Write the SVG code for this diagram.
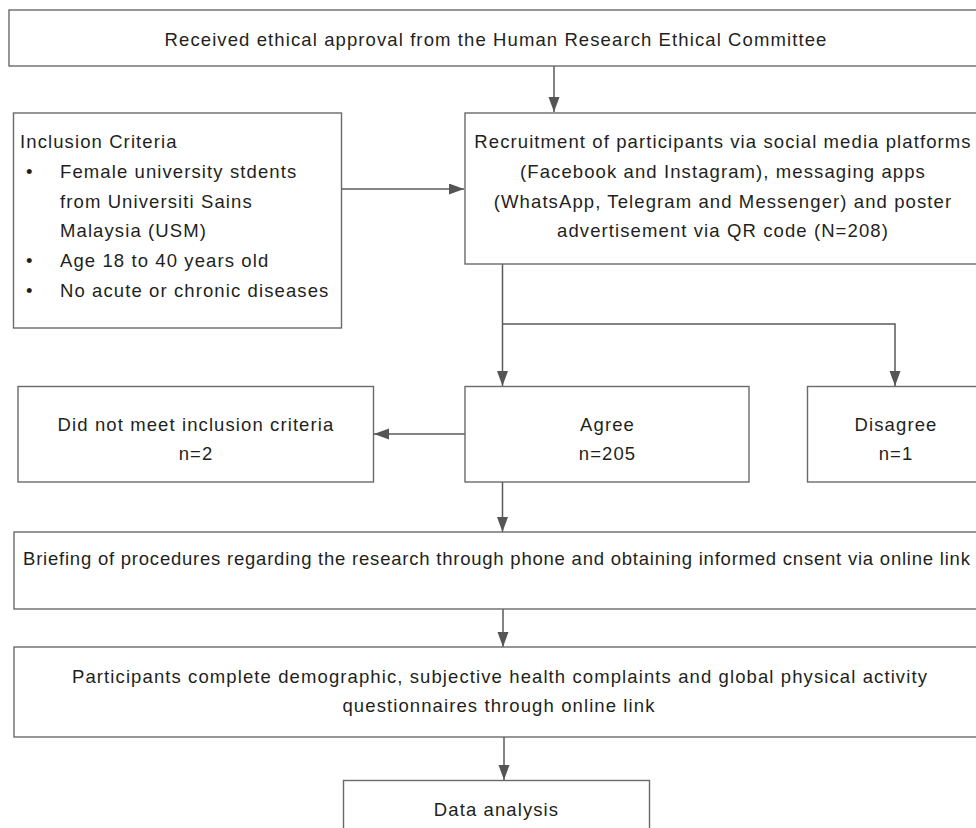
<svg xmlns="http://www.w3.org/2000/svg" width="976" height="828" viewBox="0 0 976 828">
<defs>
<marker id="ah" markerUnits="userSpaceOnUse" markerWidth="16" markerHeight="12" refX="15" refY="5.5" orient="auto">
<path d="M0,0 L15,5.5 L0,11 Z" fill="#555555"/>
</marker>
<style>
.box{fill:#ffffff;stroke:#6a6a6a;stroke-width:1.4}
.t{font-family:"Liberation Sans",Arial,Helvetica,sans-serif;font-size:18.5px;letter-spacing:1.1px;fill:#231f20}
.c{text-anchor:middle}
.ln{fill:none;stroke:#5a5a5a;stroke-width:1.5}
</style>
</defs>
<rect width="976" height="828" fill="#ffffff"/>
<g id="connectors">
<path class="ln" d="M554,66 V112" marker-end="url(#ah)"/>
<path class="ln" d="M342,189 H464" marker-end="url(#ah)"/>
<path class="ln" d="M502.5,264 V386" marker-end="url(#ah)"/>
<path class="ln" d="M502.5,324 H895 V386" marker-end="url(#ah)"/>
<path class="ln" d="M465,434 H374" marker-end="url(#ah)"/>
<path class="ln" d="M502.5,482 V532" marker-end="url(#ah)"/>
<path class="ln" d="M503,609 V647" marker-end="url(#ah)"/>
<path class="ln" d="M504,737 V780" marker-end="url(#ah)"/>
</g>
<g id="approval">
<rect class="box" x="9" y="10" width="980" height="56"/>
<text class="t c" x="496" y="46">Received ethical approval from the Human Research Ethical Committee</text>
</g>
<g id="inclusion">
<rect class="box" x="13.5" y="113" width="328" height="215"/>
<text class="t" x="20" y="148">Inclusion Criteria</text>
<text class="t" x="26" y="177.8">•</text>
<text class="t" x="60" y="177.8">Female university stdents</text>
<text class="t" x="60" y="207.6">from Universiti Sains</text>
<text class="t" x="60" y="237.4">Malaysia (USM)</text>
<text class="t" x="26" y="267.2">•</text>
<text class="t" x="60" y="267.2">Age 18 to 40 years old</text>
<text class="t" x="26" y="297">•</text>
<text class="t" x="60" y="297">No acute or chronic diseases</text>
</g>
<g id="recruitment">
<rect class="box" x="465" y="113" width="520" height="151"/>
<text class="t c" x="723" y="148">Recruitment of participants via social media platforms</text>
<text class="t c" x="723" y="177.8">(Facebook and Instagram), messaging apps</text>
<text class="t c" x="723" y="207.6">(WhatsApp, Telegram and Messenger) and poster</text>
<text class="t c" x="723" y="237.4">advertisement via QR code (N=208)</text>
</g>
<g id="notmeet">
<rect class="box" x="18" y="386.5" width="355.5" height="95.5"/>
<text class="t c" x="196" y="431">Did not meet inclusion criteria</text>
<text class="t c" x="196" y="460">n=2</text>
</g>
<g id="agree">
<rect class="box" x="465" y="386.5" width="284" height="95.5"/>
<text class="t c" x="607.5" y="431">Agree</text>
<text class="t c" x="607.5" y="460">n=205</text>
</g>
<g id="disagree">
<rect class="box" x="807.5" y="386.5" width="176" height="95.5"/>
<text class="t c" x="896" y="431">Disagree</text>
<text class="t c" x="896" y="460">n=1</text>
</g>
<g id="briefing">
<rect class="box" x="14" y="532" width="972" height="77"/>
<text class="t" x="23" y="565" textLength="948" lengthAdjust="spacing">Briefing of procedures regarding the research through phone and obtaining informed cnsent via online link</text>
</g>
<g id="participants">
<rect class="box" x="14" y="647" width="972" height="90"/>
<text class="t c" x="500" y="683">Participants complete demographic, subjective health complaints and global physical activity</text>
<text class="t c" x="499" y="712">questionnaires through online link</text>
</g>
<g id="analysis">
<rect class="box" x="343.5" y="780.5" width="306" height="70"/>
<text class="t c" x="496.5" y="816">Data analysis</text>
</g>
</svg>
